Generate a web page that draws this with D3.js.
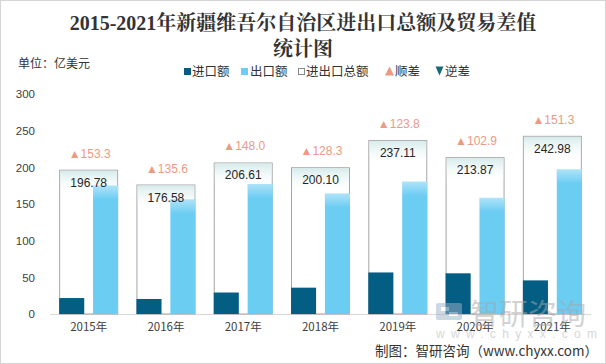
<!DOCTYPE html>
<html><head><meta charset="utf-8">
<script src="https://cdn.jsdelivr.net/npm/d3@7"></script>
<style>
html,body{margin:0;padding:0;background:#fff;}
svg{display:block;}
</style></head>
<body>
<script>
const years = ["2015年","2016年","2017年","2018年","2019年","2020年","2021年"];
const importVals = [21.74, 20.49, 29.31, 35.90, 56.66, 55.49, 45.84];
const exportVals = [175.04, 156.09, 177.30, 164.20, 180.46, 158.38, 197.14];
const totalVals = [196.78, 176.58, 206.61, 200.10, 237.11, 213.87, 242.98];
const balanceVals = [153.3, 135.6, 148.0, 128.3, 123.8, 102.9, 151.3];
const yTicks = [0, 50, 100, 150, 200, 250, 300];
const legendLabels = ["进口额","出口额","进出口总额","顺差","逆差"];

const W = 606, H = 364;
const cImp = "#045d83", cExp = "#6ccdf3", cSur = "#ec9a83", cDef = "#17697a";
const numFont = "'Liberation Sans','Noto Sans CJK SC',sans-serif";
const cjkFont = "'Noto Sans CJK SC',sans-serif";

const svg = d3.select("body").append("svg").attr("width", W).attr("height", H);
const defs = svg.append("defs");
const g1 = defs.append("linearGradient").attr("id","boxGrad").attr("x1",0).attr("y1",0).attr("x2",0).attr("y2",1);
g1.append("stop").attr("offset","0%").attr("stop-color","#d5ebeb").attr("stop-opacity",1);
g1.append("stop").attr("offset","100%").attr("stop-color","#ffffff").attr("stop-opacity",0);
const g2 = defs.append("linearGradient").attr("id","expGrad").attr("x1",0).attr("y1",0).attr("x2",0).attr("y2",1);
g2.append("stop").attr("offset","0%").attr("stop-color","#ffffff").attr("stop-opacity",0.45);
g2.append("stop").attr("offset","100%").attr("stop-color","#ffffff").attr("stop-opacity",0);

// border
svg.append("rect").attr("x",0.5).attr("y",0.5).attr("width",W-1).attr("height",H-1)
  .attr("fill","#fff").attr("stroke","#d4d4d4");

// title
const title = svg.append("text").attr("text-anchor","middle")
  .attr("font-family","'Liberation Serif','Noto Serif CJK SC','Noto Sans CJK SC',serif")
  .attr("font-weight","bold").attr("font-size",20).attr("fill","#333");
title.append("tspan").attr("x",W/2).attr("y",30).text("2015-2021年新疆维吾尔自治区进出口总额及贸易差值");
title.append("tspan").attr("x",W/2).attr("y",56).text("统计图");

svg.append("text").attr("x",18).attr("y",68).attr("font-family",cjkFont).attr("font-size",12)
  .attr("fill","#333").text("单位：亿美元");

// scales
const x = d3.scaleBand().domain(years).range([50, 591]).paddingInner(0.237).paddingOuter(0.1185);
const sub = d3.scaleBand().domain(["imp","exp"]).range([0, x.bandwidth()]).paddingInner(0.26).paddingOuter(0);
const y = d3.scaleLinear().domain([0, 300]).range([314, 94]);

// y axis labels
const yAxis = d3.axisLeft(y).tickValues(yTicks).tickSize(0).tickPadding(0);
const ya = svg.append("g").attr("transform","translate(35,0)").call(yAxis);
ya.select(".domain").remove();
ya.selectAll("text").attr("font-family",numFont).attr("font-size",11.5).attr("fill","#404040");

// baseline
svg.append("line").attr("x1",50).attr("x2",591).attr("y1",y(0)+0.5).attr("y2",y(0)+0.5)
  .attr("stroke","#d9d9d9");

// x axis
const xAxis = d3.axisBottom(x).tickSize(0).tickPadding(9);
const xa = svg.append("g").attr("transform",`translate(0,${y(0)})`).call(xAxis);
xa.select(".domain").remove();
xa.selectAll("text").attr("font-family",cjkFont).attr("font-size",11.5).attr("fill","#404040");

const data = years.map((yr,i)=>({yr, imp:importVals[i], exp:exportVals[i], tot:totalVals[i], bal:balanceVals[i]}));
const grp = svg.append("g").selectAll("g").data(data).join("g").attr("transform",d=>`translate(${x(d.yr)},0)`);

// total boxes
grp.append("rect").attr("x",0.5).attr("y",d=>y(d.tot)+0.5).attr("width",x.bandwidth()-1)
  .attr("height",d=>y(0)-y(d.tot)-0.5).attr("fill","#fff").attr("stroke","#a6a6a6");
grp.append("rect").attr("x",1).attr("y",d=>y(d.tot)+1).attr("width",x.bandwidth()-2)
  .attr("height",24).attr("fill","url(#boxGrad)");

// import bars
grp.append("rect").attr("x",sub("imp")).attr("y",d=>y(d.imp)).attr("width",sub.bandwidth())
  .attr("height",d=>y(0)-y(d.imp)).attr("fill",cImp);
// export bars
grp.append("rect").attr("x",sub("exp")).attr("y",d=>y(d.exp)).attr("width",sub.bandwidth())
  .attr("height",d=>y(0)-y(d.exp)).attr("fill",cExp);
grp.append("rect").attr("x",sub("exp")).attr("y",d=>y(d.exp)).attr("width",sub.bandwidth())
  .attr("height",14).attr("fill","url(#expGrad)");

// total labels
grp.append("text").attr("x",x.bandwidth()/2).attr("y",d=>y(d.tot)+17).attr("text-anchor","middle")
  .attr("font-family",numFont).attr("font-size",12).attr("fill","#262626").text(d=>d.tot.toFixed(2));

// balance labels
grp.append("text").attr("x",x.bandwidth()/2+1).attr("y",d=>y(d.tot)-12).attr("text-anchor","middle")
  .attr("font-family",numFont).attr("font-size",12).attr("fill",cSur)
  .text(d=>(d.bal>=0?"▲":"▼")+d.bal.toFixed(1));

// legend
const leg = svg.append("g").attr("font-family",cjkFont).attr("font-size",12.5).attr("fill","#333");
const ly = 71.5;
leg.append("rect").attr("x",184).attr("y",ly-3.5).attr("width",7).attr("height",7).attr("fill",cImp);
leg.append("text").attr("x",192).attr("y",ly+4.5).text(legendLabels[0]);
leg.append("rect").attr("x",241).attr("y",ly-3.5).attr("width",7).attr("height",7).attr("fill",cExp);
leg.append("text").attr("x",250).attr("y",ly+4.5).text(legendLabels[1]);
leg.append("rect").attr("x",298.5).attr("y",ly-3).attr("width",6).attr("height",6).attr("fill","#fff").attr("stroke","#888");
leg.append("text").attr("x",306).attr("y",ly+4.5).text(legendLabels[2]);
leg.append("path").attr("d",`M${385},${ly+4}L${389.5},${ly-5}L${394},${ly+4}Z`).attr("fill",cSur);
leg.append("text").attr("x",395).attr("y",ly+4.5).text(legendLabels[3]);
leg.append("path").attr("d",`M${435.5},${ly-5}L${443.5},${ly-5}L${439.5},${ly+4}Z`).attr("fill",cDef);
leg.append("text").attr("x",445).attr("y",ly+4.5).text(legendLabels[4]);

// watermark
const wm = svg.append("g").attr("opacity",0.5);
wm.append("rect").attr("x",436).attr("y",303).attr("width",26).attr("height",17).attr("rx",2).attr("fill","#9fb3c8");
wm.append("rect").attr("x",441).attr("y",307).attr("width",8).attr("height",4).attr("fill","#fff");
wm.append("rect").attr("x",449).attr("y",312).attr("width",9).attr("height",4).attr("fill","#fff");
wm.append("text").attr("x",470).attr("y",325).attr("font-family",cjkFont).attr("font-size",29)
  .attr("fill","#a7a7a7").text("智研咨询");
wm.append("text").attr("x",436).attr("y",338).attr("font-family",numFont).attr("font-size",12)
  .attr("fill","#b0b0b0").attr("letter-spacing",6.3).text("www.chyxx.com");

// source
svg.append("text").attr("x",598).attr("y",356).attr("text-anchor","end")
  .attr("font-family",cjkFont).attr("font-size",13.5).attr("fill","#333")
  .text("制图：智研咨询（www.chyxx.com）");
</script>
</body></html>
